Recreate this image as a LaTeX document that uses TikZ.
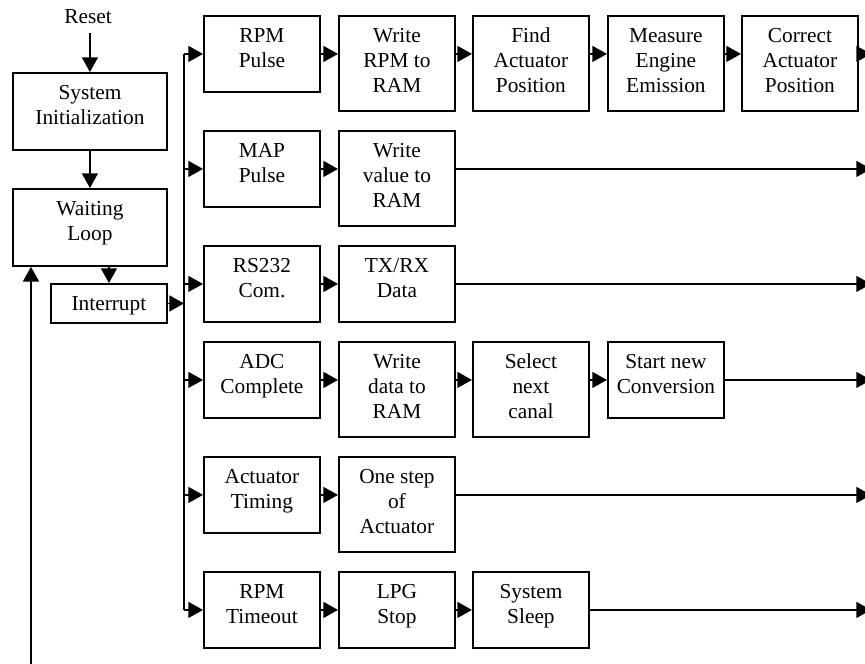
\documentclass[tikz,border=0pt]{standalone}
\usepackage{fontspec}
\setmainfont{Liberation Serif}
\usetikzlibrary{arrows.meta}
\newcommand{\bxtext}[3]{\parbox[c][#2][t]{#1}{\centering\vspace*{7.1pt}\strut#3\par}}
\newcommand{\shortbox}[1]{\bxtext{87pt}{57pt}{#1}}
\newcommand{\tallbox}[1]{\bxtext{87pt}{71.25pt}{#1}}
\tikzset{
  box/.style={draw, line width=1.4pt, inner sep=0pt, anchor=north west, font=\fontsize{16}{18.75}\selectfont},
  arr/.style={line width=1.05pt, -{Triangle[length=11pt,width=12pt]}},
  ln/.style={line width=1.05pt}
}
\begin{document}
\begin{tikzpicture}[x=0.75pt,y=-0.75pt]
\useasboundingbox (0,0) rectangle (865,664);
% left column
\node[font=\fontsize{16}{18.75}\selectfont, inner sep=7pt, anchor=base] (reset) at (88,23) {Reset};
\node[box] (init) at (12,72) {\bxtext{115.5pt}{57.75pt}{System\\Initialization}};
\node[box] (wait) at (12,188) {\bxtext{115.5pt}{57.75pt}{Waiting\\Loop}};
\node[box] (int) at (50,283) {\bxtext{87pt}{29.25pt}{Interrupt}};
\draw[arr] (reset.south -| init.north) -- (init.north);
\draw[arr] (init.south) -- (wait.north);
\draw[arr] (wait.south -| int.north) -- (int.north);
\coordinate (fb) at (31,668);
\draw[arr] (fb) -- (fb |- wait.south);
% rows
\node[box] (r1c1) at (203,15) {\shortbox{RPM\\Pulse}};
\node[box] (r1c2) at (338,15) {\tallbox{Write\\RPM to\\RAM}};
\node[box] (r1c3) at (472,15) {\tallbox{Find\\Actuator\\Position}};
\node[box] (r1c4) at (607,15) {\tallbox{Measure\\Engine\\Emission}};
\node[box] (r1c5) at (741,15) {\tallbox{Correct\\Actuator\\Position}};
\node[box] (r2c1) at (203,130) {\shortbox{MAP\\Pulse}};
\node[box] (r2c2) at (338,130) {\tallbox{Write\\value to\\RAM}};
\node[box] (r3c1) at (203,245) {\shortbox{RS232\\Com.}};
\node[box] (r3c2) at (338,245) {\shortbox{TX/RX\\Data}};
\node[box] (r4c1) at (203,341) {\shortbox{ADC\\Complete}};
\node[box] (r4c2) at (338,341) {\tallbox{Write\\data to\\RAM}};
\node[box] (r4c3) at (472,341) {\tallbox{Select\\next\\canal}};
\node[box] (r4c4) at (607,341) {\shortbox{Start new\\Conversion}};
\node[box] (r5c1) at (203,456) {\shortbox{Actuator\\Timing}};
\node[box] (r5c2) at (338,456) {\tallbox{One step\\of\\Actuator}};
\node[box] (r6c1) at (203,571) {\shortbox{RPM\\Timeout}};
\node[box] (r6c2) at (338,571) {\shortbox{LPG\\Stop}};
\node[box] (r6c3) at (472,571) {\shortbox{System\\Sleep}};
% bus
\coordinate (bx) at (184,0);
\foreach \r in {1,...,6} {\coordinate (b\r) at (bx |- r\r c1.west);}
\coordinate (e1) at (871,0);
\draw[ln] (b1) -- (b6);
\draw[arr] (int.east) -- (int.east -| bx);
\foreach \r in {1,...,6} {\draw[arr] (b\r) -- (r\r c1.west);}
% within rows
\draw[arr] (r1c1.east) -- (r1c1.east -| r1c2.west);
\draw[arr] (r1c1.east -| r1c2.east) -- (r1c1.east -| r1c3.west);
\draw[arr] (r1c1.east -| r1c3.east) -- (r1c1.east -| r1c4.west);
\draw[arr] (r1c1.east -| r1c4.east) -- (r1c1.east -| r1c5.west);
\draw[arr] (r1c1.east -| r1c5.east) -- (r1c1.east -| e1);
\draw[arr] (r2c1.east) -- (r2c1.east -| r2c2.west);
\draw[arr] (r2c1.east -| r2c2.east) -- (r2c1.east -| e1);
\draw[arr] (r3c1.east) -- (r3c2.west);
\draw[arr] (r3c2.east) -- (r3c1.east -| e1);
\draw[arr] (r4c1.east) -- (r4c1.east -| r4c2.west);
\draw[arr] (r4c1.east -| r4c2.east) -- (r4c1.east -| r4c3.west);
\draw[arr] (r4c1.east -| r4c3.east) -- (r4c4.west);
\draw[arr] (r4c4.east) -- (r4c1.east -| e1);
\draw[arr] (r5c1.east) -- (r5c1.east -| r5c2.west);
\draw[arr] (r5c1.east -| r5c2.east) -- (r5c1.east -| e1);
\draw[arr] (r6c1.east) -- (r6c2.west);
\draw[arr] (r6c2.east) -- (r6c3.west);
\draw[arr] (r6c3.east) -- (r6c1.east -| e1);
\end{tikzpicture}
\end{document}
